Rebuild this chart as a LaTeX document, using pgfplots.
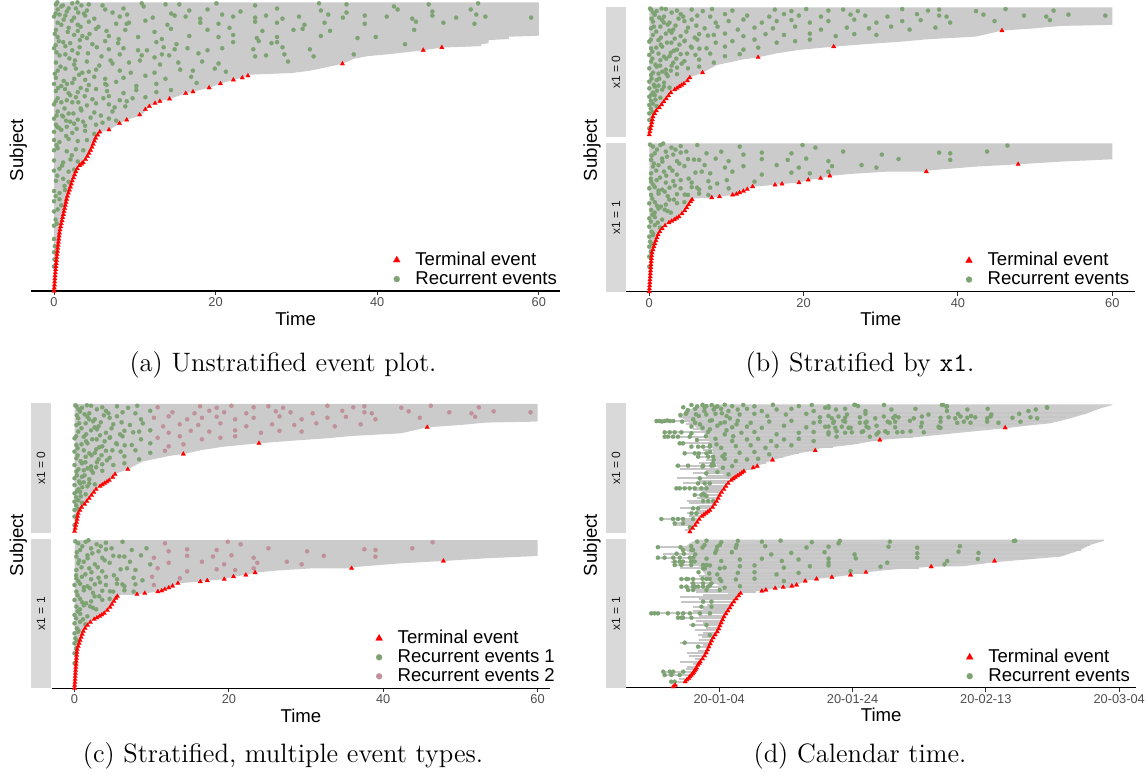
\documentclass[border=0pt]{standalone}
\usepackage{pgfplots}
\pgfplotsset{compat=1.18}
\usepackage{fontspec}
\newfontfamily\arial{Liberation Sans}
\definecolor{evgrey}{HTML}{CBCBCB}
\definecolor{evline}{HTML}{C6C6C6}
\definecolor{rec1}{HTML}{7DA373}
\definecolor{rec2}{HTML}{C0919A}
\definecolor{term}{HTML}{FF0000}
\definecolor{stripbg}{HTML}{D9D9D9}
\definecolor{tickgrey}{HTML}{4D4D4D}
\newcommand{\tickf}{\arial\fontsize{6.4}{7.5}\selectfont}
\newcommand{\stripf}{\arial\fontsize{6}{7}\selectfont}
\newcommand{\labf}{\arial\fontsize{9.3}{11}\selectfont}
\newcommand{\capf}{\fontsize{13.3}{15}\selectfont}

\pgfplotsset{
  ev/.style={scale only axis, clip=false, xmin=-3, xmax=63, ymin=0, hide y axis,
    legend cell align=left,
    legend style={draw=none, fill=none, font=\labf, inner sep=0pt, outer sep=0pt, row sep=0pt,
      nodes={inner sep=0.6pt, text height=6.8pt, text depth=1.5pt}},
    legend image code/.code={\path (-3pt,0pt) (8.5pt,0pt); \draw[##1] plot coordinates {(0pt,0pt)};}},
  evnox/.style={hide x axis},
  evx/.style={axis x line*=bottom, axis line style={-, line width=0.55pt, black},
    xtick={0,20,40,60}, xticklabels={0,20,40,60}, tick align=outside, major tick length=2pt,
    tick style={line width=0.5pt, black!80},
    xticklabel style={font=\tickf, text=tickgrey, inner sep=1.1pt},
    xlabel={Time}, xlabel style={font=\labf, at={(axis description cs:0.5,0)}, anchor=center, yshift=-13.75pt}},
  evdot/.style={only marks, forget plot, mark=*, mark size=1.05pt, color=#1, mark options={draw=#1, fill=#1, line width=0.1pt}},
  evtri/.style={only marks, forget plot, mark=triangle*, mark size=1.3pt, color=term, mark options={draw=term, fill=term, line width=0.1pt}},
  evarea/.style={forget plot, draw=none, fill=evgrey},
  evlines/.style={forget plot, draw=none, mark=none, error bars/.cd, x dir=minus, x explicit,
    error mark=none, error bar style={line width=1pt, draw=evline}},
  legtri/.style={only marks, mark=triangle*, mark size=2pt, color=term, mark options={draw=term, fill=term, line width=0.1pt}},
  legdot/.style={only marks, mark=*, mark size=1.5pt, color=#1, mark options={draw=#1, fill=#1, line width=0.1pt}},
}

\begin{document}

% stratum x1 = 0 (panels b and c), subject axis in pixel rows
\pgfplotstableread[row sep=\\]{
t y\\
0.24 127\\ 0.96 125.5\\ 2.15 127.5\\ 3.59 126\\ 5.50 127\\ 6.94 125.5\\ 8.13 127.5\\ 10.77 126\\ 16.27 127\\ 18.42 125.5\\
20.33 127.5\\ 23.21 126\\ 25.12 127\\ 27.03 125.5\\ 32.77 127.5\\ 36.12 126\\ 37.56 127\\ 42.34 125.5\\ 46.17 127.5\\ 52.39 126\\
0.72 121.7\\ 1.91 120\\ 4.07 122.5\\ 6.22 121\\ 7.89 120\\ 9.81 122.5\\ 12.68 121\\ 15.55 120\\ 17.46 122.5\\ 19.38 121\\
22.25 120\\ 26.08 122\\ 27.99 121\\ 30.86 120\\ 34.69 122.5\\ 37.56 121\\ 38.52 120\\ 43.3 122\\ 48.56 121\\ 51.44 120\\ 54.31 122\\ 59.09 121\\
0.48 115\\ 1.67 116.5\\ 2.63 114\\ 4.55 115.5\\ 5.5 117\\ 8.61 114\\ 10.29 115.5\\ 12.2 117\\ 14.59 114\\ 16.51 115.5\\
18.42 116.5\\ 20.81 114\\ 23.21 115.5\\ 26.56 117\\ 29.43 114\\ 32.77 115.5\\ 35.17 116.5\\ 38.99 114\\ 44.74 115.5\\ 51.91 116.5\\
0.24 108.3\\ 1.44 110\\ 3.11 107\\ 5.02 109\\ 7.18 108.3\\ 8.85 110\\ 11.48 107\\ 13.64 109\\ 16.03 108.3\\ 18.9 110\\
22.25 107\\ 25.6 109\\ 28.47 108.3\\ 31.34 110\\ 33.73 107\\ 37.08 109\\
0.48 101.7\\ 2.15 103\\ 4.07 100.5\\ 6.46 102.5\\ 8.37 101.7\\ 9.81 103\\ 12.2 100.5\\ 15.07 102.5\\ 17.46 101.7\\ 20.81 103\\
24.16 100.5\\ 26.56 102.5\\ 29.43 101.7\\
0 95\\ 1.2 96.5\\ 2.87 94\\ 4.55 95.5\\ 6.22 97\\ 8.61 94\\ 10.77 95.5\\ 13.64 97\\ 16.51 94\\ 18.9 95.5\\ 20.81 97\\
0.24 88.3\\ 1.67 90\\ 3.59 87\\ 5.5 89\\ 7.42 88.3\\ 9.81 90\\ 12.2 87\\ 14.11 89\\
0 81.7\\ 1.2 83\\ 2.63 80.5\\ 4.07 82.5\\ 5.98 81.7\\ 7.89 83\\ 9.81 80.5\\ 11.72 82.5\\
0.24 75\\ 1.44 76.5\\ 3.11 74\\ 4.55 75.5\\ 6.46 77\\ 8.37 74\\
0 68.3\\ 0.96 70\\ 2.15 67\\ 3.59 69\\ 5.02 68.3\\ 6.46 70\\
0.24 61.7\\ 1.2 63\\ 2.39 60.5\\ 3.59 62.5\\ 0 55\\ 0.96 56.5\\ 1.91 54\\
0 48.3\\ 0.72 50\\ 1.67 47\\ 2.63 49\\ 0 40\\ 0.72 41.5\\ 1.44 39\\ 0 31.7\\ 0.48 33\\ 0.96 30.5\\
0 23.3\\ 0.48 24.5\\ 0 16.7\\ 0 8.3\\
0.5 124\\ 1.3 119\\ 2.4 112\\ 0.9 105\\ 3.3 98\\ 1.5 92\\ 0.4 85\\ 2.2 78\\ 0.8 72\\ 1.7 65\\ 0.3 58\\ 1.2 51\\
0.5 44\\ 0.2 36\\ 3.8 118\\ 2.9 104\\ 4.6 96\\ 3.2 86\\ 4.2 73\\ 2.8 66\\ 4.4 120\\ 6.1 111\\ 7.6 101\\ 5.4 90\\
0.1 128\\ 1.6 128\\ 2.9 124\\ 0.3 118\\ 1.9 114\\ 3.4 111\\ 0.6 110\\ 2.6 106\\ 1.5 99\\ 0.2 97\\ 2.3 94\\ 3.9 92\\
0.9 89\\ 2.8 84\\ 1.9 80\\ 0.4 78\\ 3.5 78\\ 1.4 71\\ 2.9 71\\ 0.5 64\\ 2.2 63\\ 1.3 58\\ 0.6 52\\ 1.9 50\\ 1.0 46\\
0.3 42\\ 0.8 37\\ 0.2 28\\ 4.8 105\\ 5.9 99\\ 4.9 83\\ 6.5 88\\
}\buDots

\pgfplotstableread[row sep=\\]{
t y\\
0 2\\ 0.08 5\\ 0.16 8\\ 0.26 11\\ 0.33 14\\ 0.4 17\\ 0.48 20\\ 0.7 23\\ 0.92 26\\ 1.3 29\\ 1.6 32\\ 1.9 35\\
2.2 38\\ 2.5 41\\ 2.8 44\\ 3.3 47\\ 3.6 48.5\\ 3.9 50\\ 4.2 51.5\\ 4.5 53\\ 4.95 56\\ 5.25 59\\
6.9 64\\ 14.1 79.3\\ 23.9 90\\ 45.7 106\\
}\buTri

\pgfplotstableread[row sep=\\]{
t y\\
0 1.7\\ 0.24 10\\ 0.48 20\\ 0.96 26.7\\ 1.43 30\\ 1.9 35\\ 2.4 40\\ 2.87 45\\ 3.6 48.3\\ 4.3 51.7\\ 5.0 56.7\\ 5.26 59.3\\
6.9 64\\ 8.8 71.7\\ 10.8 75\\ 12.2 77.3\\ 14.1 79.3\\ 16.5 83.3\\ 19.4 86.7\\ 23.9 90\\ 28.4 92.7\\ 32.7 95\\ 35.9 97.3\\
42.3 100\\ 45.7 106\\ 50 108.3\\ 53.3 110.7\\ 60 111.7\\ 60 129.3\\ 0 129.3\\
}\buArea

% stratum x1 = 1 (panels b and c)
\pgfplotstableread[row sep=\\]{
t y\\
0.48 145\\ 1.44 146.5\\ 2.87 144\\ 4.07 145.5\\ 6.22 146.5\\ 11.72 145\\ 19.86 146.5\\ 21.53 144\\ 46.41 146\\
0.72 138.3\\ 2.15 140\\ 3.11 137\\ 4.07 139\\ 7.42 138.3\\ 9.33 140\\ 12.2 137\\ 14.59 139\\ 18.42 138.3\\ 25.12 140\\
30.14 137\\ 37.56 139\\ 38.99 138.3\\ 43.77 140\\
0.24 131.7\\ 1.67 133\\ 3.59 130.5\\ 5.02 132.5\\ 6.46 131.7\\ 8.61 133\\ 10.29 130.5\\ 14.59 132.5\\ 17.94 131.7\\
20.33 133\\ 23.21 130.5\\ 32.3 132.5\\ 38.99 131.7\\
0.48 125\\ 1.2 126.5\\ 2.63 124\\ 4.55 125.5\\ 7.18 126.5\\ 9.81 124\\ 12.2 125.5\\ 16.51 126.5\\ 19.38 124\\ 23.68 125.5\\
27.51 126.5\\ 29.43 124\\
0.24 118.3\\ 1.91 120\\ 3.59 117\\ 5.98 119\\ 7.89 118.3\\ 10.77 120\\ 14.59 117\\ 18.42 119\\ 20.81 118.3\\ 23.21 120\\
0.24 110\\ 0.96 111.5\\ 2.15 109\\ 3.11 110.5\\ 4.07 111.5\\ 5.5 109\\ 7.66 110.5\\ 10.05 111.5\\ 13.64 110\\
0 103.3\\ 0.72 104.5\\ 1.67 102\\ 2.63 104\\ 4.07 103.3\\ 5.5 104.5\\ 6.46 102\\ 7.89 104\\ 10.29 103.3\\
0.24 96.7\\ 1.2 98\\ 2.39 95.5\\ 3.59 97.5\\ 5.02 96.7\\ 6.46 98\\ 7.66 96.7\\
0 88.3\\ 0.72 89.5\\ 2.15 87\\ 3.59 88.5\\ 4.55 89.5\\ 0.24 81.7\\ 1.2 83\\ 2.39 80.5\\
0 73.3\\ 0.72 74.5\\ 1.67 72\\ 0 65\\ 0.72 66.5\\ 0 55\\ 0.48 56.5\\ 0 45\\ 0 35\\ 0 25\\
1.0 142\\ 2.3 135\\ 0.6 128\\ 3.0 121\\ 1.4 114\\ 0.5 107\\ 2.0 100\\ 3.2 92\\ 1.5 85\\ 0.4 77\\ 1.1 69\\ 0.3 60\\
0.1 50\\ 0.2 40\\ 4.8 140\\ 3.9 128\\ 5.1 113\\ 6.2 104\\ 2.8 79\\
0.1 147\\ 1.8 148\\ 3.4 142\\ 0.3 136\\ 1.7 130\\ 0.9 121\\ 2.2 116\\ 0.2 113\\ 3.3 106\\ 1.2 101\\ 0.4 93\\ 2.6 92\\
1.0 86\\ 2.0 82\\ 0.7 79\\ 0.2 70\\ 1.4 64\\ 0.5 58\\ 0.3 48\\ 5.8 132\\ 6.8 120\\ 8.8 108\\ 4.6 97\\
}\blDots

\pgfplotstableread[row sep=\\]{
t y\\
0 0\\ 0.02 3\\ 0.05 6\\ 0.07 9\\ 0.09 12\\ 0.12 15\\ 0.14 18\\ 0.17 21\\ 0.2 24\\ 0.22 27\\ 0.25 30\\ 0.28 33\\
0.31 36\\ 0.35 39\\ 0.48 42\\ 0.6 45\\ 0.72 48\\ 0.86 51\\ 1.0 54\\ 1.14 57\\ 1.37 60\\ 1.68 63\\ 2.05 66\\ 2.55 69\\
2.9 70.5\\ 3.25 72\\ 3.55 73.5\\ 3.85 75\\ 4.25 78\\ 4.6 81\\ 4.85 84\\ 5.1 87\\ 5.35 90\\ 5.55 92\\
8.1 94\\ 9.1 95\\ 10.8 96.7\\ 11.3 97.5\\ 11.7 99\\ 12.2 100.5\\ 12.7 102.3\\ 13.4 105\\ 16.3 106.7\\ 17.2 107.7\\
19.4 109\\ 20.6 111.7\\ 22.2 113.3\\ 23.4 115.7\\ 35.9 120\\ 47.8 127.3\\
}\blTri

\pgfplotstableread[row sep=\\]{
t y\\
0 0\\ 0.14 18.3\\ 0.33 38.3\\ 0.72 48.3\\ 1.2 58.3\\ 1.9 65\\ 2.4 68.3\\ 3.6 73.3\\ 4.5 80\\ 5.5 91.7\\ 5.8 93.3\\
8.1 93.6\\ 8.1 94\\ 9.1 95\\ 10.8 96.7\\ 11.7 99\\ 12.7 102.3\\ 13.4 105\\ 16.3 106.7\\ 17.2 107.7\\ 19.4 109\\
20.6 111.7\\ 22.2 113.3\\ 23.4 115.7\\ 26.1 117.7\\ 30.9 120\\ 35.9 120\\ 35.9 121\\ 42.3 125\\ 47.8 127.3\\
53.3 130\\ 60 132.3\\ 60 148.3\\ 0 148.3\\
}\blArea

% calendar time lines: end day, row, length
\pgfplotstableread[row sep=\\]{
e y l\\
-4.2 3 1.0\\ -3.9 6 0.7\\ -3.6 8.5 3.4\\ -3.5 10 3.2\\ -3.2 12.5 2.3\\ -3.0 14.3 5.9\\ -2.6 17 1.9\\ -2.0 20 2.8\\
-1.6 22.5 1.9\\ -1.0 25 4.9\\ -0.8 27.5 2.2\\ -0.55 30 3.95\\ -0.4 32.3 4.5\\ -0.15 35 3.15\\ 0.1 38.3 3.8\\
0.35 41 2.85\\ 0.6 43 4.6\\ 0.8 45 7.5\\ 1.1 47.5 3.3\\ 1.34 50 6.74\\ 1.7 52.5 4.7\\ 2.3 55 8.7\\ 2.8 57.5 4.8\\
3.2 60 7.2\\ 3.7 62 5.7\\ 5.0 64.3 10.9\\ 6.0 67.6 12.7\\ 7.0 70 10\\ 8.0 73.3 10\\ 9.5 76.6 12.8\\ 11.9 80 17.3\\
14 83 16.5\\ 17 86.6 20.5\\ 21 90 27.2\\ 24 93 27\\ 29 96.6 37.4\\ 33 101 41.4\\ 38 104 42\\ 43 107 46\\
47 109.5 52\\ 49.7 112.3 59.3\\ 52 116.5 58\\ 55 120.5 60\\
}\duLines

\pgfplotstableread[row sep=\\]{
e y l\\
-6.9 1 0.4\\ -6.2 3 0.3\\ -5.2 6 2.0\\ -4.7 9 1.3\\ -4.3 12.7 3.9\\ -3.9 16 4.5\\ -3.55 19 1.45\\ -3.35 21 1.55\\
-3.05 24 0.95\\ -2.85 26 3.05\\ -2.5 29 1.2\\ -2.25 31.5 2.25\\ -2.0 34.4 2.9\\ -1.85 37 1.35\\ -1.55 41 1.85\\
-1.4 43 1.1\\ -1.3 45 4.6\\ -1.05 48 1.95\\ -0.85 50.5 1.75\\ -0.65 52.7 2.55\\ -0.4 55 2.1\\ -0.16 57.7 3.54\\
0 60 2.0\\ 0.2 62.7 4.8\\ 0.35 65 2.85\\ 0.45 67 3.95\\ 0.65 70 7.05\\ 0.8 72 3.8\\ 1.05 74.4 11.45\\ 1.3 77 5.3\\
1.5 79 4.0\\ 1.65 81 5.55\\ 1.85 83 3.65\\ 2.2 86 7.9\\ 2.5 88.5 5.5\\ 2.7 91 8.6\\ 3.0 93 5.5\\ 5.5 95.5 9\\
7.0 97.7 11.9\\ 10.9 101 16.8\\ 12.0 104.4 16.4\\ 14.6 108.7 20.5\\ 17.5 111.5 20.5\\ 21.5 114.4 23.4\\
30 119.3 35.9\\ 35 122.7 41.9\\ 40 126 47.2\\ 47 130 56.4\\ 52 134 60.4\\ 54.2 137.7 59.9\\ 54.6 140.5 64.1\\
55.6 142.7 58.5\\
}\dlLines

\begin{tikzpicture}

% ---------------- (a) unstratified ----------------
\begin{axis}[ev, evx, xmin=-2.8, xmax=62.6, at={(15.7pt,-145.5pt)}, anchor=south west, width=264.2pt, height=141.5pt, ymax=283,
  legend style={at={(axis cs:62.4,21)}, anchor=east}]
\addlegendimage{legtri}\addlegendentry{Terminal event}
\addlegendimage{legdot=rec1}\addlegendentry{Recurrent events}
\addplot[evarea] coordinates {(0,0) (0.23,24.3) (0.68,57.7) (1.13,74.3) (1.58,91) (2.26,107.7) (2.94,121) (3.85,127.7)
 (4.52,137.7) (5.2,151) (5.66,156) (6.8,157.7) (8.1,164.3) (9.0,167.7) (10.9,172.7) (11.8,181) (13.1,186) (14.3,188.3)
 (16.3,193.7) (17.2,195.3) (19.2,199.3) (20.6,203.3) (22.2,207) (24.0,211) (24,212) (29.4,213.7) (31.7,216) (35.7,222.7)
 (37.1,227.7) (38.9,230.3) (42.1,232.7) (45.7,236) (48.0,238.7) (52.9,240) (52.9,242) (53.8,243) (53.8,246) (56.3,247)
 (56.3,249.3) (60,250.3) (60,283) (0,283)};
\addplot[evdot=rec1] coordinates {
 (0.23,281)(0.9,279)(2.26,282)(3.39,280)(4.3,281)(10.86,282)(11.1,279)(13.8,281)(20.1,282)(24.89,280)(32.8,282)(36.2,281)(42.08,279)(46.38,281)(52.49,282)
 (0.45,276)(1.58,274)(2.71,277)(4.07,275)(6.33,276)(7.24,273)(8.6,277)(16.74,275)(19,276)(23.08,274)(27.6,277)(33.03,275)(36.2,273)(42.53,276)(46.83,274)(51.58,276)
 (0,269)(0.68,271)(2.49,268)(3.85,270)(4.98,267)(8.14,269)(9.05,271)(12.22,268)(14.93,270)(16.29,269)(18.1,267)(20.81,271)(22.17,269)(24.89,268)
 (26.24,270)(28.28,267)(30.32,269)(33.94,271)(35.75,268)(38.46,270)(41.18,269)(44.34,267)(46.83,270)(49.77,268)(52.26,271)(53.39,269)(59.05,268)
 (0.45,263)(2.94,261)(4.3,264)(7.69,262)(9.28,263)(11.31,265)(14.03,261)(18.1,263)(20.36,262)(24.89,264)(27.6,263)(31,261)(33.48,263)(38.46,262)(44.8,264)(48.19,263)(52.04,262)
 (0.23,256)(1.81,258)(2.94,255)(5.2,257)(8.82,256)(12.44,254)(14.48,257)(19,256)(21.72,258)(25.79,255)(29.64,256)(30.77,257)(34.16,255)(44.57,256)
 (0.45,249)(2.49,251)(4.07,248)(6.79,250)(10.4,249)(13.35,247)(16.74,250)(20.36,249)(22.17,251)(25.11,248)(27.6,249)(33.03,250)(37.56,248)(39.82,249)
 (1.13,244)(4.75,242)(6.33,245)(7.92,243)(12.67,244)(15.16,242)(22.17,244)(25.34,245)(26.92,243)(27.6,244)(43.44,242)
 (0,238)(2.26,236)(3.17,239)(6.79,237)(8.6,238)(10.4,236)(13.57,239)(14.93,237)(16.52,238)(19,236)(20.81,238)(24.66,237)(28.28,239)(31.67,237)
 (0.68,231)(2.94,233)(5.88,230)(8.14,232)(10.86,231)(12.44,229)(13.35,232)(14.25,231)(17.87,233)(24.89,230)(26.24,231)(28.51,232)(32.13,230)(37.1,232)
 (0.23,224)(2.49,222)(4.07,225)(7.24,223)(9.28,224)(10.63,226)(13.12,222)(15.38,224)(18.33,225)(20.36,223)(28.96,225)
 (0.45,216)(2.71,218)(4.3,215)(5.2,217)(8.14,216)(12.44,214)(15.61,217)(17.19,216)(19.9,218)(21.27,215)
 (0.23,209)(3.85,207)(4.98,210)(6.33,208)(8.6,209)(11.31,211)(13.8,208)(16.97,210)
 (0,203)(0.9,201)(2.26,204)(4.3,202)(6.33,203)(7.69,205)(10.18,201)(12.67,203)(17.65,204)
 (0.23,196)(1.36,198)(2.94,195)(4.07,197)(6.56,196)(8.6,194)(10.18,197)(12.67,195)(14.48,197)
 (0.45,189)(1.58,187)(2.71,190)(4.75,188)(6.11,189)(6.79,191)(8.14,187)(9.73,189)(11.31,190)
 (0,183)(2.26,185)(4.07,182)(5.2,184)(6.79,183)(8.82,181)
 (0.45,176)(1.81,174)(3.39,177)(4.98,175)(7.24,176)
 (0,169)(1.13,171)(2.94,168)(4.52,170)(6.79,169)(7.69,167)
 (0.23,163)(1.58,161)(2.49,164)(3.85,162)(5.2,163)
 (0,156)(0.9,158)(2.26,155)(3.85,157)(4.98,154)
 (0,148)(0.68,146)(1.81,149)(2.94,147)(4.07,148)
 (0,138)(0.45,140)(1.58,137)(2.71,139)(3.62,138)
 (0,128)(1.13,126)(2.04,129)(2.94,127)
 (0,118)(0.68,120)(1.81,117)(2.49,119)
 (0.23,108)(1.13,110)(1.81,107)(0,98)(0.68,96)(1.36,99)(0,88)(0.68,90)(0,78)(0.45,80)(0.2,70)(0,64)(0.36,66)
 (0,51)(0.1,44)(0,38)(0.05,31)(0,24)
 (0.1,252)(0.6,245)(1.4,240)(0.3,234)(1.9,228)(0.8,220)(3.1,212)(1.2,206)(0.5,199)(2.0,192)(0.2,186)(3.3,179)(1.0,172)
 (2.0,166)(0.6,160)(1.5,152)(0.3,143)(2.2,133)(1.0,123)(0.4,113)(1.3,103)(0.2,93)(0.9,84)(3.0,273)(1.2,266)(5.5,259)(3.5,250)
 (0.4,283)(1.1,280)(1.8,277)(2.9,283)(3.7,272)(0.2,272)(1.4,270)(2.2,265)(3.3,259)(0.9,261)(1.7,254)(4.4,252)(3.2,246)
 (2.0,243)(0.2,241)(5.3,239)(4.2,233)(1.4,232)(2.6,226)(5.6,221)(1.4,218)(3.5,214)(0.1,213)(2.5,208)(1.6,203)(3.3,199)
 (5.2,198)(1.8,194)(3.8,191)(0.9,185)(3.0,185)(1.3,179)(2.4,174)(0.3,172)(1.5,167)(3.6,166)(0.4,161)(2.8,159)(6.0,165)
 (5.8,172)(7.5,180)(9.0,186)(6.5,202)(9.5,214)(7.0,226)(11.5,236)(8.0,247)(6.5,255)(9.0,262)(6.0,280)(14.5,272)(15.5,281)};
\addplot[evtri] coordinates {
 (0,0)(0.03,3)(0.06,6)(0.08,9)(0.1,12)(0.13,15)(0.16,18)(0.2,21)(0.23,24)(0.27,27)(0.3,30)(0.34,33)(0.38,36)(0.42,39)
 (0.46,42)(0.51,45)(0.55,48)(0.59,51)(0.63,54)(0.67,57)(0.74,60)(0.82,63)(0.9,66)(0.99,69)(1.07,72)(1.16,75)(1.24,78)
 (1.32,81)(1.4,84)(1.48,87)(1.56,90)(1.66,93)(1.78,96)(1.9,99)(2.02,102)(2.14,105)(2.26,108)(2.41,111)(2.55,114)
 (2.7,117)(2.88,120)(3.15,123)(3.4,124.5)(3.6,126)(3.9,129)(4.13,132)(4.33,135)(4.52,138)(4.7,141)(4.85,144)(5.0,147)
 (5.15,150)(5.4,153)(5.66,156)
 (6.8,158)(8.1,164.3)(9.0,167.7)(10.6,172.7)(11.3,178)(11.8,181)(12.5,184)(13.1,186)(14.3,188.3)(16.3,193.7)
 (17.2,195.3)(19.2,199.3)(20.6,203.3)(22.2,207)(23.3,209)(24.0,211)(35.7,222.7)(45.7,236)(48.0,238.7)};
\end{axis}
\node[rotate=90, font=\labf] at (9.1pt,-75pt) {Subject};

% ---------------- (b) stratified by x1 ----------------
\fill[stripbg] (302.9pt,-3.65pt) rectangle (313pt,-68.35pt);
\fill[stripbg] (302.9pt,-71.65pt) rectangle (313pt,-145.85pt);
\node[rotate=90, font=\stripf, text=black!90] at (307.95pt,-36pt) {x1 = 0};
\node[rotate=90, font=\stripf, text=black!90] at (307.95pt,-108.75pt) {x1 = 1};
\node[rotate=90, font=\labf] at (296pt,-75pt) {Subject};
\begin{axis}[ev, evnox, at={(313.05pt,-68.35pt)}, anchor=south west, width=254.7pt, height=64.7pt, ymax=129.3]
\addplot[evarea] table {\buArea};
\addplot[evdot=rec1] table {\buDots};
\addplot[evtri] table {\buTri};
\end{axis}
\begin{axis}[ev, evx, at={(313.05pt,-145.85pt)}, anchor=south west, width=254.7pt, height=74.2pt, ymax=148.3,
  legend style={at={(axis cs:62.35,21.6)}, anchor=east}]
\addlegendimage{legtri}\addlegendentry{Terminal event}
\addlegendimage{legdot=rec1}\addlegendentry{Recurrent events}
\addplot[evarea] table {\blArea};
\addplot[evdot=rec1] table {\blDots};
\addplot[evtri] table {\blTri};
\end{axis}

% ---------------- (c) two event types ----------------
\fill[stripbg] (15.45pt,-201.65pt) rectangle (25.45pt,-266.65pt);
\fill[stripbg] (15.45pt,-269.65pt) rectangle (25.45pt,-344.15pt);
\node[rotate=90, font=\stripf, text=black!90] at (20.45pt,-234.15pt) {x1 = 0};
\node[rotate=90, font=\stripf, text=black!90] at (20.45pt,-306.9pt) {x1 = 1};
\node[rotate=90, font=\labf] at (9.1pt,-272.5pt) {Subject};
\begin{axis}[ev, evnox, xmin=-2.92, xmax=61.6, at={(26pt,-266.65pt)}, anchor=south west, width=248.95pt, height=64.65pt, ymax=129.3]
\addplot[evarea] table {\buArea};
\addplot[evdot=rec1, restrict x to domain=-5:10] table {\buDots};
\addplot[evdot=rec2, restrict x to domain=10:70] table {\buDots};
\addplot[evtri] table {\buTri};
\end{axis}
\begin{axis}[ev, evx, xmin=-2.92, xmax=61.6, at={(26pt,-344.15pt)}, anchor=south west, width=248.95pt, height=74.15pt, ymax=148.3,
  legend style={at={(axis cs:62.4,31)}, anchor=east}]
\addlegendimage{legtri}\addlegendentry{Terminal event}
\addlegendimage{legdot=rec1}\addlegendentry{Recurrent events 1}
\addlegendimage{legdot=rec2}\addlegendentry{Recurrent events 2}
\addplot[evarea] table {\blArea};
\addplot[evdot=rec1, restrict x to domain=-5:10] table {\blDots};
\addplot[evdot=rec2, restrict x to domain=10:70] table {\blDots};
\addplot[evtri] table {\blTri};
\end{axis}

% ---------------- (d) calendar time (days from 2020-01-04) ----------------
\fill[stripbg] (302.9pt,-201.65pt) rectangle (313pt,-266.65pt);
\fill[stripbg] (302.9pt,-269.65pt) rectangle (313pt,-343.85pt);
\node[rotate=90, font=\stripf, text=black!90] at (307.95pt,-234.15pt) {x1 = 0};
\node[rotate=90, font=\stripf, text=black!90] at (307.95pt,-306.75pt) {x1 = 1};
\node[rotate=90, font=\labf] at (296pt,-272.5pt) {Subject};
\begin{axis}[ev, evnox, xmin=-14, xmax=62.6, at={(312.95pt,-266.65pt)}, anchor=south west, width=255.3pt, height=65pt, ymax=130]
\addplot[evarea] coordinates {(0.8,57) (2.5,57) (3.1,59) (3.7,62) (5.35,66.3) (8,73.3) (11.9,80) (14.4,82.7) (15.1,85)
 (19.7,88.3) (24.1,93.3) (30.2,96.6) (36,100.5) (42.9,105) (46,107.5) (49.7,110) (52.7,115) (55.2,120) (57.2,125)
 (59,128.3) (59,129) (-2.4,129) (-4.4,124) (-5.8,118.3) (-5.5,115) (-3.9,108) (-2.2,100) (-1.5,92) (-1.0,85)
 (-0.7,75) (-0.2,66)};
\addplot[evlines] table[x=e, y=y, x error=l] {\duLines};
\addplot[evdot=rec1] coordinates {
 (-4.17,128.3)(-3.33,127)(-2.5,128.5)(-1.94,127.2)(-1.11,128.3)(-0.28,127)(0.83,128.5)(1.94,127.2)(3.61,128.3)(5.28,127)
 (8.06,128.5)(11.94,127.2)(13.89,128.3)(16.39,127)(20.28,128.5)(20.83,127.2)(24.72,128.3)(33.61,128.3)(34.17,127.2)(49.17,126)
 (-4.72,123.3)(-3.61,124.5)(-2.22,122.3)(-0.83,123.8)(0.28,124.5)(1.39,122.3)(2.78,123.8)(4.17,124.5)(6.39,122.3)(8.61,123.8)
 (10.83,124.5)(14.17,122.3)(17.5,123.8)(18.89,124.5)(21.94,122.3)(25.83,123.8)(29.44,124.5)(34.17,122.3)(37.22,123.8)(40.28,124.5)(46.39,122.3)(47.5,123.8)
 (-5.83,118.3)(-5,119.5)(-3.06,117.3)(-1.94,118.8)(-0.56,119.5)(1.11,117.3)(3.06,118.8)(5.28,119.5)(7.22,117.3)(10,118.8)
 (13.06,119.5)(16.39,117.3)(19.17,118.8)(21.94,119.5)(26.39,117.3)(31.39,118.8)(35.83,119.5)(37.78,117.3)(40.83,118.8)(45,119.5)
 (-9.4,112.3)(-9.0,112.3)(-8.6,111.8)(-8.2,112.3)(-7.8,112.8)(-7.4,112.3)(-6.9,112.3)(-5.56,111.7)(-3.61,110.5)(-1.39,112.5)
 (0.83,111)(2.78,112.5)(4.72,110.5)(7.5,111.7)(10.83,112.5)(14.17,110.5)(17.22,111.7)(18.61,112.5)(21.94,110.5)(25.28,111.7)(28.61,112.5)
 (-4.17,106.7)(-2.5,105.5)(-0.28,107.5)(1.94,106)(4.17,106.7)(6.39,105.5)(9.72,107.5)(13.06,106)(16.39,106.7)(19.72,105.5)
 (23.61,107.5)(26.39,106)(30.28,106.7)(33.06,105.5)
 (-4.17,100)(-1.67,101.3)(0.83,99)(3.33,100.5)(5.28,101.3)(8.61,99)(11.94,100.5)(14.17,101.3)(16.39,99)(18.89,100.5)
 (21.39,101.3)(23.61,99)(25.28,100.5)(27.5,101.3)
 (-3.33,93.3)(-0.56,94.5)(1.94,92.3)(4.17,93.8)(5.83,94.5)(7.78,92.3)(9.72,93.8)(11.94,94.5)(14.17,92.3)
 (-4.17,86.7)(-1.39,88)(0.28,85.5)(2.5,87.2)(4.72,88)(6.94,85.5)(8.61,87.2)(10.83,88)
 (-3.06,80)(-1.39,81.3)(0.83,79)(3.06,80.5)(5.28,81.3)(7.5,79)
 (-0.83,73.3)(0.83,74.5)(2.5,72.3)(4.17,73.8)(5.83,74.5)(-2.5,66.7)(-0.83,68)(0.56,65.5)(1.94,67.2)
 (-1.94,60)(-0.28,61.3)(1.39,59)
 (15.1,116)(16.9,115)(17.9,116.8)(18.9,115.5)(21.1,116)(23.4,115)(24.7,116.8)(26.1,115.5)(26.9,116)(29.2,115)(30.4,116.8)
 (33.2,115.5)(34.4,116)(35.4,115)(36.2,116.8)(37.2,115.5)(38.4,116)(40.2,115)(40.7,116.8)(44,115.5)(46.7,116)(47.7,115)
 (15.9,125.6)(16.4,125.6)(20.4,128.3)(33.4,128.3)(34.1,126.6)(49.2,125.6)
 (15.1,111.6)(17.1,110.5)(18.9,111.6)(21.1,110.5)(22.1,111.6)(25.6,110.5)(26.4,111.6)(30.4,110.5)(33.2,111.6)(35.7,110.5)
 (36.7,111.6)(37.7,110.5)(40.2,111.6)(41.9,110.5)(45.2,111.6)
 (15.9,106.6)(17.4,105.5)(18.4,106.6)(19.4,105.5)(22.1,106.6)(22.4,105.5)(32.9,106.6)(33.2,105.5)
 (16.4,101)(17.6,102)(19.9,101)(21.6,102)(23.9,101)(24.9,102)(26.7,101)(28.7,102)(30.7,101)(17.6,96.6)(22.6,96.6)
 (-8.18,101)(-7.43,101)(-6.68,101)(-5.68,101)(-8.18,96.6)(-7.68,96.6)(-6.93,96.6)(-6.18,96.6)(-4.42,96.6)
 (-5.93,90)(-5.43,90)(-3.17,86.6)(-2.42,86.6)(-1.42,86.6)(-5.18,80)(-3.67,80)(-1.92,80)(-3.17,76.6)(-1.67,76.6)(-0.91,76.6)
 (-6.18,67.6)(-4.67,67.6)(-2.42,67.6)(-1.17,67.6)(-2.92,55)(-3.17,50)(-2.17,50)(-1.42,50)
 (-6.43,45)(-5.93,45)(-5.18,45)(-4.42,45)(-3.67,45)(-2.67,45)(-1.92,45)
 (-3.67,38.3)(-2.67,38.3)(-2.42,39.5)(-2.17,38.3)(-1.92,37.3)(-2.42,32.3)(-1.67,32.3)(-0.91,32.3)
 (-3.92,25)(-3.17,25)(-4.17,20)(-3.42,20)(-8.68,14.3)(-6.93,14.3)(-6.18,14.3)(-5.43,14.3)(-3.92,14.3)(-6.68,10)(-5.43,10)(-4.4,6)
 (-5.4,126)(-4.9,121)(-3.9,114)(-2.9,109)(-1.4,104)(-0.6,126)(0.4,120)(1.6,115)(2.6,109)(-2.2,126)(-3.5,119)(-1.1,113)
 (0.2,110)(1.1,103)(2.1,97)(-0.4,89)(-2.0,97)(0.5,77)(-1.0,70)};
\addplot[evtri] coordinates {
 (-4.4,1.6)(-4.0,5)(-3.6,8)(-3.3,11)(-3.0,14)(-2.6,17)(-2.3,18.5)(-2.0,20)(-1.7,21.5)(-1.4,23)(-1.0,26)(-0.7,29)(-0.4,32)
 (-0.15,35)(0.07,38)(0.35,41)(0.7,44)(1.0,47)(1.34,50)(1.8,53)(2.1,54.5)(2.4,56)(2.75,57.5)(3.1,59)(3.4,60.5)(3.7,62)
 (5.1,65.6)(5.7,67)(8.0,73.3)(14.4,82.7)(24.1,93.3)(42.9,105.5)};
\end{axis}
\begin{axis}[ev, evx, xmin=-14, xmax=62.6, at={(312.95pt,-343.85pt)}, anchor=south west, width=255.3pt, height=74.15pt, ymax=148.3,
  xticklabels={20-01-04,20-01-24,20-02-13,20-03-04},
  legend style={at={(axis cs:61.8,21)}, anchor=east}]
\addlegendimage{legtri}\addlegendentry{Terminal event}
\addlegendimage{legdot=rec1}\addlegendentry{Recurrent events}
\addplot[evarea] coordinates {(1.8,89) (2.55,89) (2.9,92) (3.2,94.4) (3.4,96) (6.4,96.7) (7.0,97.7) (8.4,99.4) (9.6,100.4)
 (10.9,101.7) (11.6,102.7) (12.9,106.7) (14.6,108.7) (16.9,110.5) (19.7,112.7) (22.0,115.4) (25.2,117.7) (31.8,121)
 (36.7,121.5) (41.2,125.4) (45.2,127.7) (51.2,131) (54.2,137.7) (55.6,142.7) (57.7,146.7) (57.7,148) (-3.5,148)
 (-4.5,144) (-5.5,139) (-4.0,133) (-3.5,125) (-2.5,117) (-1.8,110) (-0.5,104) (1.0,98)};
\addplot[evlines] table[x=e, y=y, x error=l] {\dlLines};
\addplot[evdot=rec1] coordinates {
 (-2.2,142.7)(0.1,142.7)(2.6,142.7)(-5.43,137.7)(-4.17,137.7)(-3.92,137.7)(-0.41,137.7)
 (-9.2,130)(-8.2,130)(-6.9,130)(-5.9,130)(-4.4,130)(-3.9,130)(-6.68,126)(-5.93,126)(-5.43,126)(-4.17,126)(-3.67,126)
 (-6.68,122.7)(-5.68,122.7)(-2.42,122.7)(-1.92,122.7)(-2.42,119.3)(-2.17,119.3)(0.09,119.3)
 (-5.68,108.7)(-4.92,108.7)(-3.92,108.7)(-1.92,108.7)(-1.42,108.7)(0.09,108.7)(-3.92,104.4)(-2.42,104.4)(-1.17,104.4)
 (-5.68,101)(-4.92,101)(-3.92,101)(-3.17,101)(-2.42,101)(-1.67,101)(-4.67,97.7)(-3.92,97.7)(-1.92,97.7)(0.09,97.7)
 (-2.42,86)(-1.17,86)(-2.67,81)(-1.17,81)
 (-10.2,74.4)(-9.7,74.4)(-9.2,74.4)(-7.7,74.4)(-6.2,74.4)(-5.4,74.4)(-4.4,74.4)(-2.9,74.4)(-1.4,74.4)
 (-6.18,70)(-5.68,70)(-5.43,70)(-4.17,70)(-3.92,62.7)(-1.92,62.7)(-1.42,52.7)(-5.18,45)(-3.17,41)
 (-8.4,16)(-7.4,16)(-6.9,16)(-5.4,16)(-8.18,12.7)(-7.18,12.7)(-5.93,12.7)(-7.2,6)(-6.7,6)
 (-3.3,146)(-1.9,147)(0.3,145.5)(2.8,146.8)(6.4,146)(9.2,147)(13.9,145.5)(18.1,146.8)(25.6,146)(44.4,147)
 (-9.2,140.5)(-5.8,140.5)(-4.2,141.5)(-2.5,140.2)(-0.3,141)(2.5,140)(6.9,141.5)(13.1,140.2)(16.4,141)(29.7,140)(36.1,141.5)
 (-6.4,134)(-5.3,134)(-3.6,133.3)(-0.6,134.8)(1.9,135.5)(7.8,133.3)(10.8,134.8)(15.8,135.5)(20.3,133.3)(38.9,134.8)
 (-4.2,126)(-1.9,129)(0.3,126.7)(3.1,128.2)(6.4,129)(9.4,126.7)(11.9,128.2)(16.4,129)(34.2,126.7)
 (-4.2,122.7)(-1.4,122.3)(0.8,120)(3.1,121.5)(5.3,122.3)(9.7,120)(13.6,121.5)(16.4,122.3)
 (-1.5,114.3)(-3.1,115.5)(-0.3,113.3)(2.8,114.8)(5.3,115.5)(8.6,113.3)(11.9,114.8)
 (-4.7,108.7)(-2.5,109)(0.3,106.7)(2.5,108.2)(5.3,109)(9.7,106.7)(-3.6,101)(-1.4,102.3)(0.8,100)(3.1,101.5)
 (17.9,144.4)(25.4,141)(29.7,134.4)(29.7,130)(35.9,136)(44.2,146.7)(16.4,125)(20.5,129.4)(24.2,121)(25.2,125)
 (19.7,116.7)(33.8,123.4)(38.8,128.7)};
\addplot[evtri] coordinates {
 (-6.9,1)(-6.6,2.5)(-5.1,6)(-4.85,8)(-4.6,9.5)(-4.4,11)(-4.2,12.5)(-4.0,14)(-3.85,15.5)(-3.7,17)(-3.55,18.5)(-3.4,20)
 (-3.2,22.7)(-3.0,24.3)(-2.85,26)(-2.5,29)(-2.2,32)(-1.95,35)(-1.75,38)(-1.55,41)(-1.35,44)(-1.15,47)(-0.9,50)(-0.6,53)
 (-0.3,56)(-0.08,59)(0.1,62)(0.3,65)(0.5,68)(0.72,71)(1.0,74)(1.3,77)(1.6,80)(1.85,83)(2.2,86)(2.55,89)(2.9,92)(3.2,94.4)
 (6.4,96.7)(7.0,97.7)(8.4,99.4)(9.6,100.4)(10.9,101.7)(11.6,102.7)(12.9,106.7)(14.6,108.7)(16.9,110.5)(19.7,112.7)
 (22.0,115.4)(31.8,121)(41.3,126.7)};
\end{axis}

% ---------------- captions ----------------
\node[font=\capf] at (141.5pt,-182.65pt) {(a) Unstratified event plot.};
\node[font=\capf] at (430pt,-182.65pt) {(b) Stratified by \texttt{x1}.};
\node[font=\capf] at (141.5pt,-377.8pt) {(c) Stratified, multiple event types.};
\node[font=\capf] at (430pt,-377.8pt) {(d) Calendar time.};

\pgfresetboundingbox
\useasboundingbox (0pt,0pt) rectangle (574pt,-390.5pt);
\end{tikzpicture}
\end{document}
